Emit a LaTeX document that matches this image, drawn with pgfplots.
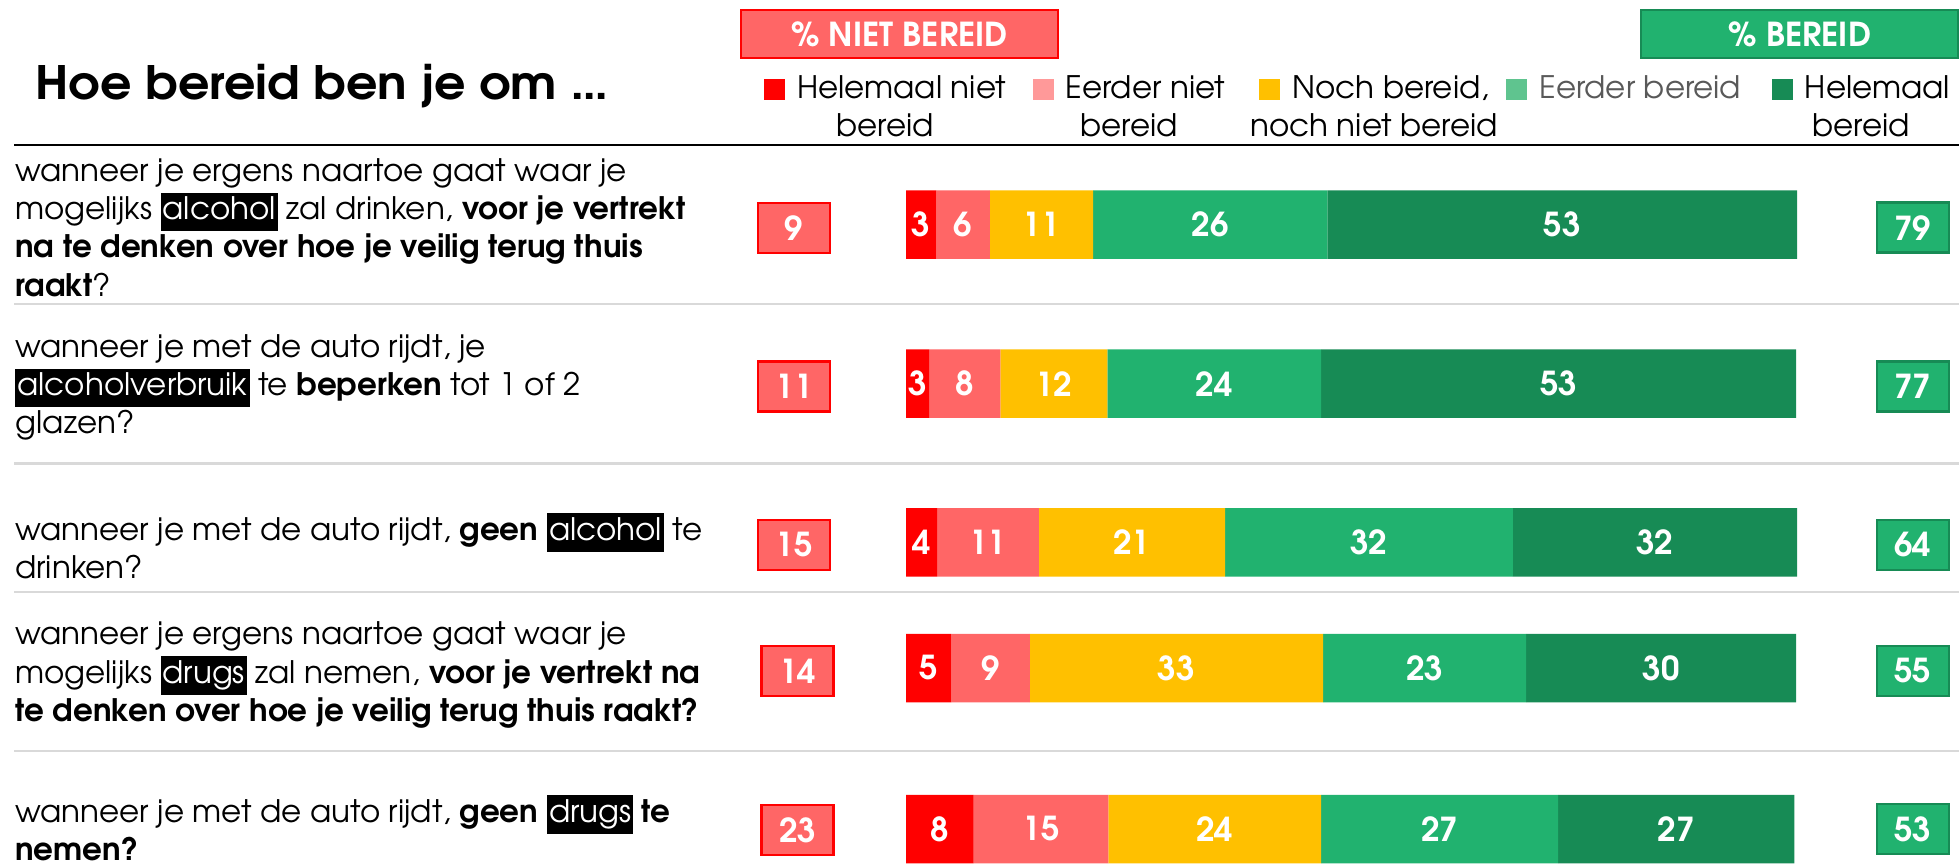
\documentclass[border=0pt]{standalone}
\usepackage{pgfplots}
\pgfplotsset{compat=1.18}
\usepackage{pgfplotstable}
\usepackage{fontspec}
\setmainfont{texgyreadventor}[Extension=.otf, UprightFont=*-regular, BoldFont=*-bold, ItalicFont=*-italic, BoldItalicFont=*-bolditalic]
\newfontfamily\titlefont{texgyreadventor}[Extension=.otf, UprightFont=*-bold, FakeStretch=1.07]

\definecolor{cRed}{HTML}{FF0000}
\definecolor{cPink}{HTML}{FF6666}
\definecolor{cPinkL}{HTML}{FF9999}
\definecolor{cYel}{HTML}{FFC000}
\definecolor{cGrn}{HTML}{21B26F}
\definecolor{cGrnL}{HTML}{5FC48F}
\definecolor{cDark}{HTML}{178B55}
\definecolor{cSep}{HTML}{D9D9D9}
\definecolor{cTxt}{HTML}{595959}

\newcommand{\hl}[1]{{\setlength{\fboxsep}{0pt}\colorbox{black}{\strut\hspace{1pt}\textcolor{white}{#1}\hspace{1pt}}}}
\newcommand{\mk}[1]{\textcolor{#1}{\rule[-1pt]{10.5pt}{10.5pt}}\hspace{6pt}}

% segment widths as read off the bars, labels as printed
\pgfplotstableread{
y     a    la  b    lb  c    lc  d    ld  e    le
224.7 3.4  3   6.0  6   11.6 11  26.3 26  52.7 53
383.7 2.6  3   8.0  8   12.0 12  24.0 24  53.3 53
542.5 3.5  4   11.4 11  20.9 21  32.3 32  31.9 32
668   5.1  5   8.8  9   32.9 33  22.8 23  30.3 30
829   7.6  8   15.1 15  23.9 24  26.6 27  26.5 27
}\bars

% totals: niet bereid (left) and bereid (right)
\pgfplotstableread{
x      y      v
-12.57 228    9
-12.57 386.5  11
-12.57 545    15
-12.18 671    14
-12.18 830    23
}\niet
\pgfplotstableread{
x      y      v
113.0  227.6  79
113.0  386.5  77
113.0  545    64
113.0  671    55
113.0  829    53
}\wel

\pgfplotsset{
  canvas/.style={at={(0,0)}, anchor=south west, width=979.5pt, height=432.5pt,
    scale only axis, xmin=-101.68, xmax=118.18, ymin=0, ymax=865,
    y dir=reverse, hide axis, clip=false},
  seg/.style={fill=#1, draw=none, point meta=explicit symbolic, nodes near coords,
    every node near coord/.append style={anchor=center, text=white,
      font=\bfseries\fontsize{16.5}{19}\selectfont}},
  tot/.style 2 args={draw=none, mark=none, point meta=explicit symbolic, nodes near coords,
    every node near coord/.append style={anchor=center, text=white,
      font=\bfseries\fontsize{16.5}{19}\selectfont, fill=#1, draw=#2, line width=1.2pt,
      minimum width=36pt, minimum height=25pt, inner sep=0pt}},
}

\begin{document}
\begin{tikzpicture}
\begin{axis}[canvas, xbar stacked, bar width=68.5]
\addplot[seg=cRed]  table[x=a, y=y, meta=la] {\bars};
\addplot[seg=cPink] table[x=b, y=y, meta=lb] {\bars};
\addplot[seg=cYel]  table[x=c, y=y, meta=lc] {\bars};
\addplot[seg=cGrn]  table[x=d, y=y, meta=ld] {\bars};
\addplot[seg=cDark] table[x=e, y=y, meta=le] {\bars};
\end{axis}

\begin{axis}[canvas]
\addplot[tot={cPink}{cRed}] table[x=x, y=y, meta=v] {\niet};
\addplot[tot={cGrn}{cDark}] table[x=x, y=y, meta=v] {\wel};
\end{axis}

\begin{scope}[x=0.5pt, y=-0.5pt, yshift=432.5pt, font=\fontsize{15.5}{19.15}\selectfont]
  % header
  \node[anchor=base west, inner sep=0, font=\titlefont\fontsize{23}{27}\selectfont] at (35,100) {Hoe bereid ben je om …};
  \draw[cRed, fill=cPink, line width=1.2pt] (741,10) rectangle (1058,58);
  \node[text=white, font=\bfseries\fontsize{16.5}{19}\selectfont] at (899.5,34) {\% NIET BEREID};
  \draw[cDark, fill=cGrn, line width=1.2pt] (1641,10) rectangle (1958,58);
  \node[text=white, font=\bfseries\fontsize{16.5}{19}\selectfont] at (1800,34) {\% BEREID};
  % legend
  \node[align=center, inner sep=0] at (885,106) {\mk{cRed}Helemaal niet\\bereid};
  \node[align=center, inner sep=0] at (1129,106) {\mk{cPinkL}Eerder niet\\bereid};
  \node[align=center, inner sep=0] at (1374,106) {\mk{cYel}Noch bereid,\\noch niet bereid};
  \node[anchor=west, inner sep=0, text=cTxt] at (1506,88) {\mk{cGrnL}Eerder bereid};
  \node[align=center, inner sep=0] at (1861,106) {\mk{cDark}Helemaal\\bereid};
  % rules
  \draw[line width=1.4pt] (14,145) -- (1959,145);
  \foreach \yy in {304,463.5,592,751} \draw[cSep, line width=1.2pt] (14,\yy) -- (1959,\yy);
  % questions
  \node[anchor=west, align=left, inner sep=0] at (15,227.5) {wanneer je ergens naartoe gaat waar je\\
    mogelijks \hl{alcohol} zal drinken, \textbf{voor je vertrekt}\\
    \textbf{na te denken over hoe je veilig terug thuis}\\
    \textbf{raakt}?};
  \node[anchor=west, align=left, inner sep=0] at (15,387.5) {wanneer je met de auto rijdt, je\\
    \hl{alcoholverbruik} te \textbf{beperken} tot 1 of 2\\
    glazen?};
  \node[anchor=west, align=left, inner sep=0] at (15,546) {wanneer je met de auto rijdt, \textbf{geen} \hl{alcohol} te\\
    drinken?};
  \node[anchor=west, align=left, inner sep=0] at (15,675) {wanneer je ergens naartoe gaat waar je\\
    mogelijks \hl{drugs} zal nemen, \textbf{voor je vertrekt na}\\
    \textbf{te denken over hoe je veilig terug thuis raakt?}};
  \node[anchor=west, align=left, inner sep=0] at (15,828) {wanneer je met de auto rijdt, \textbf{geen} \hl{drugs} \textbf{te}\\
    \textbf{nemen?}};
\end{scope}
\pgfresetboundingbox
\path[use as bounding box] (0,0) rectangle (979.5pt,432.5pt);
\end{tikzpicture}
\end{document}
